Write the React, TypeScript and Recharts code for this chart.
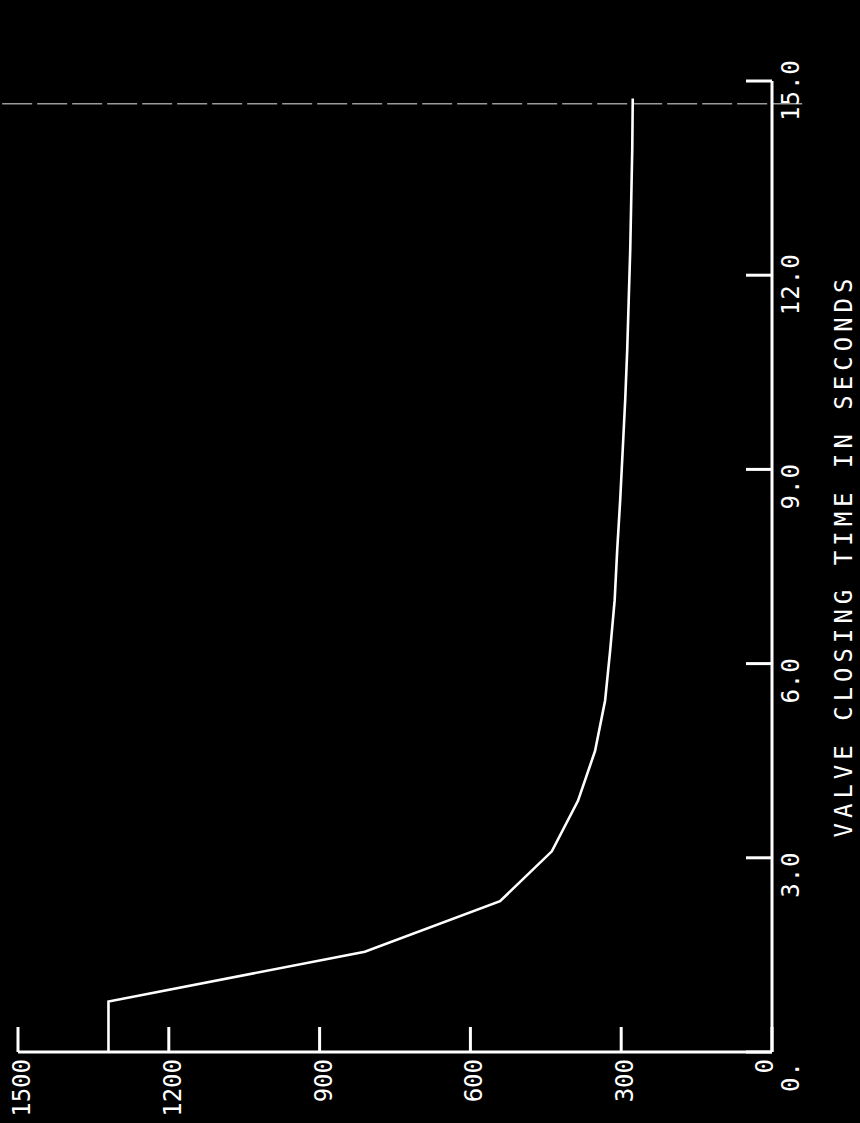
import { LineChart, Line, XAxis, YAxis, ReferenceLine } from 'recharts'

// ── data ─────────────────────────────────────────────────────────────────────

const closingTime = [
  0, 0.78, 1.55, 2.33, 3.1, 3.88, 4.65, 5.43, 6.2, 6.98,
  7.75, 8.53, 9.3, 10.08, 10.85, 11.63, 12.4, 13.18, 13.95, 14.73,
]
const pressure = [
  1320, 1320, 810, 541, 438, 386, 352, 332, 322, 313,
  308, 302, 297, 292, 288, 285, 282, 280, 278, 277,
]

const timeTicks = [0, 3, 6, 9, 12, 15]
const timeTickLabels = ['0.', '3.0', '6.0', '9.0', '12.0', '15.0']
const valueTicks = [0, 300, 600, 900, 1200, 1500]
const valueTickLabels = ['0', '300', '600', '900', '1200', '1500']

const xTitle = 'VALVE CLOSING TIME IN SECONDS'

// the faint crease that crosses the sheet near the end of the run
const creaseTime = 14.65

const data = closingTime.map((t, i) => ({ t, p: pressure[i] }))

// ── look ─────────────────────────────────────────────────────────────────────

const W = 1123 // chart is drawn sideways, then turned a quarter
const H = 860
const INK = '#ffffff'
const FONT = '"DejaVu Sans Mono", "Liberation Mono", monospace'

// eslint-disable-next-line @typescript-eslint/no-explicit-any
const TimeTick = ({ x, y, payload }: any) => {
  const i = timeTicks.indexOf(payload.value)
  return (
    <g>
      <line x1={x} y1={y} x2={x} y2={y - 26} stroke={INK} strokeWidth={3} />
      <text
        x={x - 40}
        y={y + 27}
        textAnchor="start"
        fill={INK}
        fontFamily={FONT}
        fontSize={24}
        letterSpacing={1}
      >
        {timeTickLabels[i]}
      </text>
    </g>
  )
}

// eslint-disable-next-line @typescript-eslint/no-explicit-any
const ValueTick = ({ x, y, payload }: any) => {
  const i = valueTicks.indexOf(payload.value)
  return (
    <g>
      <line x1={x} y1={y} x2={x + 25} y2={y} stroke={INK} strokeWidth={3} />
      <text
        x={x - 7}
        y={payload.value === 0 ? y + 1 : y + 12}
        textAnchor="end"
        fill={INK}
        fontFamily={FONT}
        fontSize={24}
      >
        {valueTickLabels[i]}
      </text>
    </g>
  )
}

// eslint-disable-next-line @typescript-eslint/no-explicit-any
const TimeTitle = ({ viewBox }: any) => (
  <text
    x={viewBox.x + viewBox.width / 2 + 11}
    y={viewBox.y + 80}
    textAnchor="middle"
    fill={INK}
    fontFamily={FONT}
    fontSize={24}
    letterSpacing={5}
  >
    {xTitle}
  </text>
)

export default function App() {
  return (
    <div style={{ position: 'fixed', left: 0, top: 0, width: H, height: W, background: '#000', overflow: 'hidden' }}>
      <div
        style={{
          position: 'absolute',
          left: 0,
          top: 0,
          width: W,
          height: H,
          transformOrigin: '0 0',
          transform: `translate(0px, ${W}px) rotate(-90deg)`,
        }}
      >
        <LineChart width={W} height={H} data={data} margin={{ top: 18, right: 81, bottom: 0, left: 0 }}>
          <XAxis
            type="number"
            dataKey="t"
            domain={[0, 15]}
            ticks={timeTicks}
            interval={0}
            height={88}
            tickSize={0}
            tickMargin={0}
            tickLine={false}
            axisLine={{ stroke: INK, strokeWidth: 3 }}
            tick={<TimeTick />}
            label={<TimeTitle />}
          />
          <YAxis
            type="number"
            domain={[0, 1500]}
            ticks={valueTicks}
            interval={0}
            width={71}
            tickSize={0}
            tickMargin={0}
            tickLine={false}
            axisLine={{ stroke: INK, strokeWidth: 3 }}
            tick={<ValueTick />}
          />
          <ReferenceLine
            segment={[{ x: creaseTime, y: -60 }, { x: creaseTime, y: 1800 }]}
            ifOverflow="visible"
            stroke="#9a9a9a"
            strokeWidth={1.5}
            strokeDasharray="30 5"
          />
          <Line
            type="linear"
            dataKey="p"
            stroke={INK}
            strokeWidth={2.6}
            dot={false}
            isAnimationActive={false}
          />
        </LineChart>
      </div>
    </div>
  )
}
